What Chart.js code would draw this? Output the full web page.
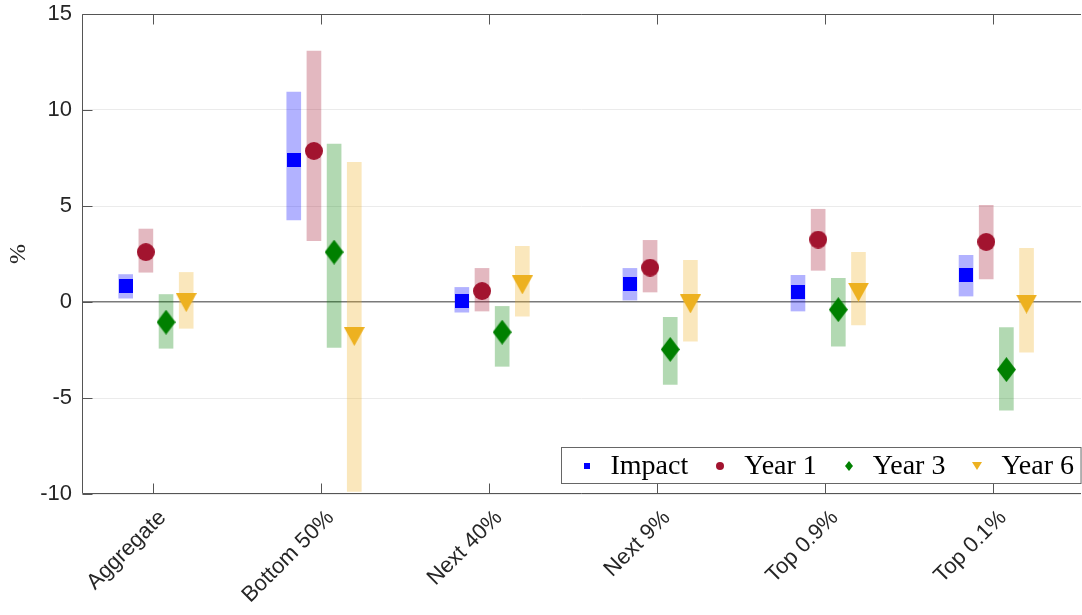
<!DOCTYPE html>
<html>
<head>
<meta charset="utf-8">
<script src="https://cdn.jsdelivr.net/npm/chart.js@4/dist/chart.umd.min.js"></script>
<style>
  html, body { margin: 0; padding: 0; background: #fff; }
  #wrap { width: 1082px; height: 615px; }
</style>
</head>
<body>
<div id="wrap"><canvas id="chart" width="1082" height="615"></canvas></div>
<script>
const categories = ["Aggregate", "Bottom 50%", "Next 40%", "Next 9%", "Top 0.9%", "Top 0.1%"]
const yTicks = [-10, -5, 0, 5, 10, 15]

const impact   = [0.83, 7.38, 0.07, 0.92, 0.50, 1.39]
const impactLo = [0.20, 4.27, -0.53, 0.10, -0.47, 0.31]
const impactHi = [1.43, 10.93, 0.76, 1.75, 1.39, 2.43]

const year1   = [2.60, 7.87, 0.57, 1.79, 3.25, 3.13]
const year1Lo = [1.55, 3.20, -0.47, 0.52, 1.65, 1.20]
const year1Hi = [3.80, 13.07, 1.75, 3.21, 4.83, 5.03]

const year3   = [-1.05, 2.60, -1.57, -2.47, -0.40, -3.52]
const year3Lo = [-2.41, -2.36, -3.35, -4.29, -2.30, -5.64]
const year3Hi = [0.39, 8.22, -0.23, -0.80, 1.23, -1.33]

const year6   = [-0.03, -1.80, 0.89, -0.10, 0.51, -0.11]
const year6Lo = [-1.37, -9.87, -0.74, -2.04, -1.20, -2.61]
const year6Hi = [1.54, 7.28, 2.90, 2.17, 2.59, 2.80]

// marker image (canvas) so the shapes match the matlab ones
function marker(shape, w, h, color) {
  const c = document.createElement("canvas")
  c.width = w
  c.height = h
  const g = c.getContext("2d")
  g.fillStyle = color
  g.beginPath()
  if (shape === "square") {
    g.rect(0, 0, w, h)
  } else if (shape === "circle") {
    g.arc(w / 2, h / 2, w / 2, 0, Math.PI * 2)
  } else if (shape === "diamond") {
    g.moveTo(w / 2, 0)
    g.lineTo(w, h / 2)
    g.lineTo(w / 2, h)
    g.lineTo(0, h / 2)
  } else {
    g.moveTo(0, 0)
    g.lineTo(w, 0)
    g.lineTo(w / 2, h)
  }
  g.closePath()
  g.fill()
  return c
}

const series = [
  { label: "Impact", mid: impact, lo: impactLo, hi: impactHi, band: "rgba(0,0,255,0.3)", off: -0.16,
    big: marker("square", 14, 14, "#0000ff"), small: marker("square", 6, 6, "#0000ff") },
  { label: "Year 1", mid: year1, lo: year1Lo, hi: year1Hi, band: "rgba(162,20,47,0.3)", off: -0.04,
    big: marker("circle", 18, 18, "#a2142f"), small: marker("circle", 8, 8, "#a2142f") },
  { label: "Year 3", mid: year3, lo: year3Lo, hi: year3Hi, band: "rgba(0,128,0,0.3)", off: 0.08,
    big: marker("diamond", 19, 25, "#008000"), small: marker("diamond", 8, 10, "#008000") },
  { label: "Year 6", mid: year6, lo: year6Lo, hi: year6Hi, band: "rgba(237,177,32,0.3)", off: 0.20,
    big: marker("triangle", 21, 19, "#edb120"), small: marker("triangle", 10, 8, "#edb120") },
]

const datasets = []
series.forEach((s) => {
  datasets.push({
    type: "bar",
    label: s.label + " band",
    data: categories.map((c, i) => ({ x: i + 1 + s.off, y: [s.lo[i], s.hi[i]] })),
    backgroundColor: s.band,
    borderWidth: 0,
    barThickness: 14,
    grouped: false,
    order: 2,
  })
})
series.forEach((s) => {
  datasets.push({
    type: "scatter",
    label: s.label,
    data: categories.map((c, i) => ({ x: i + 1 + s.off, y: s.mid[i] })),
    pointStyle: s.big,
    pointRadius: 8,
    order: 1,
  })
})

const axisColor = "#555555"

function noPad(scale) {
  scale.paddingTop = 0
  scale.paddingBottom = 0
  scale.paddingLeft = 0
  scale.paddingRight = 0
}

// box, inside ticks and the legend, matlab style
const matlabAxes = {
  id: "matlabAxes",
  afterDraw(chart) {
    const { ctx, chartArea: a, scales } = chart
    ctx.save()
    ctx.strokeStyle = axisColor
    ctx.lineWidth = 1
    const L = Math.round(a.left) + 0.5
    const T = Math.round(a.top) + 0.5
    const B = Math.round(a.bottom) - 0.5
    const R = Math.round(a.right)
    ctx.beginPath()
    ctx.moveTo(L, B); ctx.lineTo(L, T); ctx.lineTo(R, T)
    ctx.moveTo(L, B); ctx.lineTo(R, B)
    scales.y.ticks.forEach((t) => {
      const y = Math.round(scales.y.getPixelForValue(t.value)) + 0.5
      ctx.moveTo(L, y); ctx.lineTo(L + 10, y)
    })
    scales.x.ticks.forEach((t) => {
      const x = Math.round(scales.x.getPixelForValue(t.value)) + 0.5
      ctx.moveTo(x, B); ctx.lineTo(x, B - 10)
      ctx.moveTo(x, T); ctx.lineTo(x, T + 10)
    })
    ctx.stroke()

    // legend
    ctx.font = "28px 'Liberation Serif'"
    ctx.textBaseline = "middle"
    let w = 25
    const items = series.map((s) => {
      const tw = ctx.measureText(s.label).width
      const it = { s, mx: w, tx: w + 24 }
      w += 24 + tw + 32
      return it
    })
    w = w - 32 + 7
    const bx = Math.round(a.right - w) + 0.5
    const by = Math.round(a.bottom - 47) + 0.5
    const bh = 36
    ctx.fillStyle = "#fff"
    ctx.fillRect(bx, by, w, bh)
    ctx.strokeStyle = "#666"
    ctx.strokeRect(bx, by, w, bh)
    const cy = by + bh / 2
    items.forEach((it) => {
      const img = it.s.small
      ctx.drawImage(img, Math.round(bx + it.mx - img.width / 2), Math.round(cy - img.height / 2))
      ctx.fillStyle = "#000"
      ctx.fillText(it.s.label, bx + it.tx, cy + 1)
    })
    ctx.restore()
  },
}

new Chart(document.getElementById("chart"), {
  type: "bar",
  data: { datasets },
  plugins: [matlabAxes],
  options: {
    responsive: false,
    animation: false,
    layout: { autoPadding: false, padding: { top: 14, right: 1, left: 0, bottom: 0 } },
    plugins: {
      legend: { display: false },
      tooltip: { enabled: false },
    },
    scales: {
      x: {
        type: "linear",
        min: 0.58,
        max: 6.524,
        offset: false,
        grid: { display: false, offset: false },
        border: { display: false },
        afterBuildTicks: (scale) => {
          scale.ticks = categories.map((c, i) => ({ value: i + 1 }))
        },
        afterFit: (scale) => { scale.height = 121; noPad(scale) },
        ticks: {
          autoSkip: false,
          maxRotation: 45,
          minRotation: 45,
          padding: 3,
          labelOffset: 10,
          color: "#262626",
          font: { family: "'Liberation Sans'", size: 22 },
          callback: (v) => categories[Math.round(v) - 1],
        },
      },
      y: {
        min: -10,
        max: 15,
        border: { display: false },
        afterBuildTicks: (scale) => {
          scale.ticks = yTicks.map((v) => ({ value: v }))
        },
        afterFit: (scale) => { scale.width = 82; noPad(scale) },
        grid: {
          drawTicks: false,
          color: (c) => (c.tick && c.tick.value === 0 ? "#7a7a7a" : "#ebebeb"),
          lineWidth: (c) => (c.tick && c.tick.value === 0 ? 1.5 : 1),
        },
        ticks: {
          padding: 10,
          color: "#262626",
          font: { family: "'Liberation Sans'", size: 22 },
        },
        title: {
          display: true,
          text: "%",
          color: "#262626",
          font: { family: "'Liberation Serif'", size: 24 },
        },
      },
    },
  },
})
</script>
</body>
</html>
